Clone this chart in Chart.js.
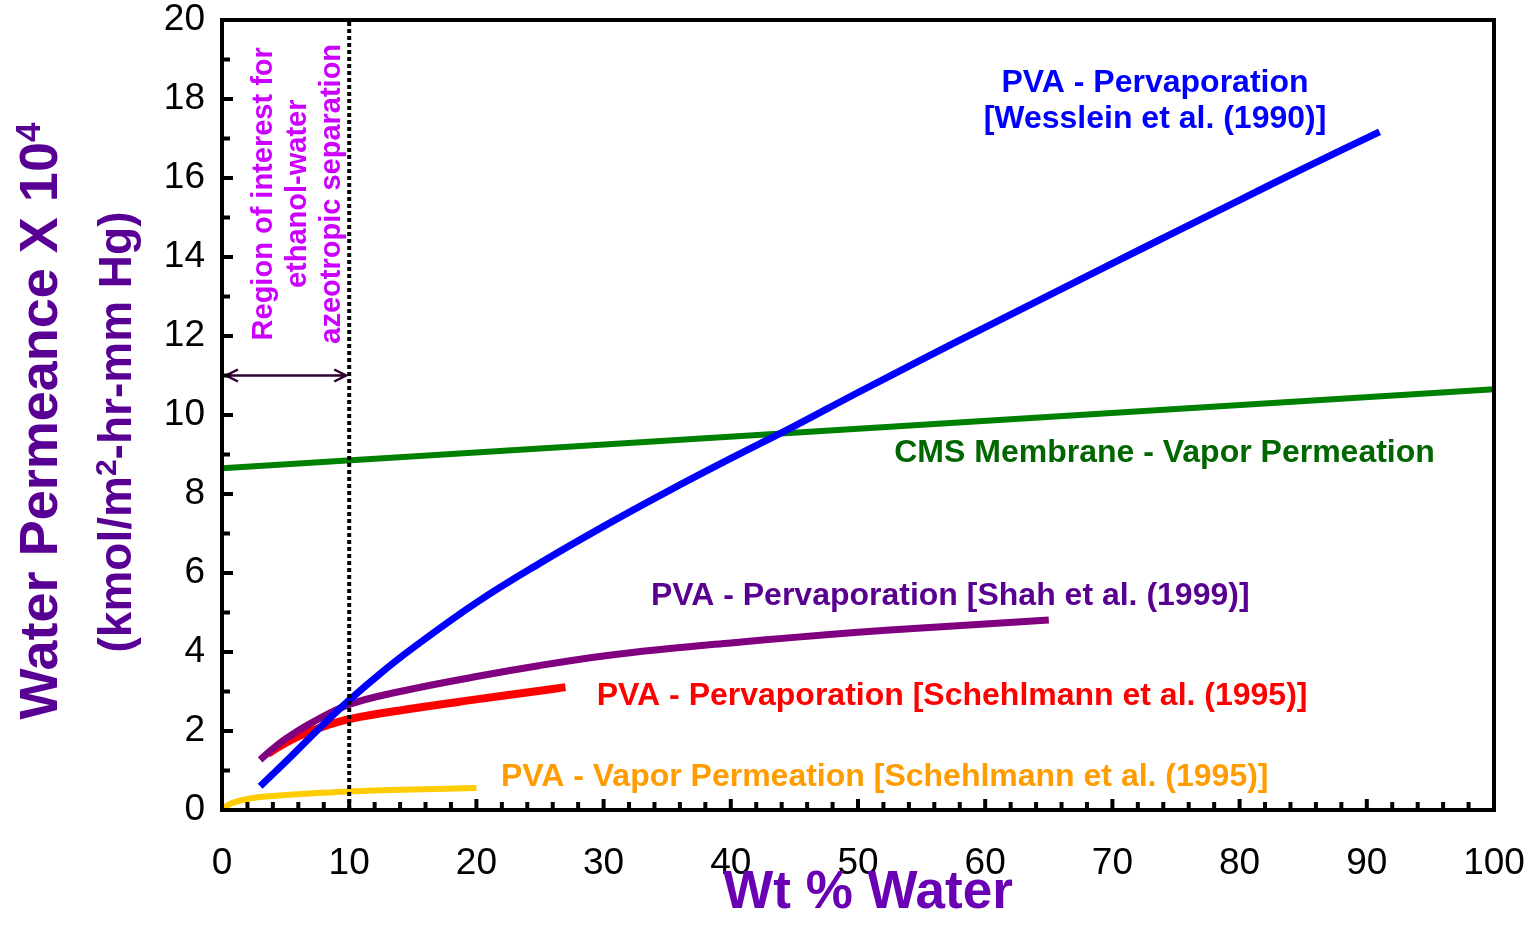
<!DOCTYPE html>
<html>
<head>
<meta charset="utf-8">
<script src="https://cdn.jsdelivr.net/npm/chart.js@4.4.0/dist/chart.umd.min.js"></script>
<style>
  html, body { margin: 0; padding: 0; background: #fff; }
</style>
</head>
<body>
<canvas id="chart" width="1537" height="938"></canvas>
<script>
const FONT = "'Liberation Sans', Arial, Helvetica, sans-serif";

// axis ranges + tick labels
const xTickLabels = [0, 10, 20, 30, 40, 50, 60, 70, 80, 90, 100];
const yTickLabels = [0, 2, 4, 6, 8, 10, 12, 14, 16, 18, 20];

// PVA - Pervaporation [Wesslein et al. (1990)]
const wessleinX = [3, 5, 7.5, 10, 12.5, 15, 20, 25, 30, 35, 40, 45, 50, 55, 60, 65, 70, 75, 80, 85, 91];
const wessleinY = [0.6, 1.22, 2.02, 2.78, 3.47, 4.1, 5.25, 6.25, 7.18, 8.06, 8.9, 9.72, 10.57, 11.4, 12.22, 13.03, 13.84, 14.64, 15.44, 16.24, 17.17];

// CMS Membrane - Vapor Permeation
const cmsX = [0, 100];
const cmsY = [8.65, 10.65];

// PVA - Pervaporation [Shah et al. (1999)]
const shahX = [3, 4, 5, 7, 10, 14, 20, 25, 30, 35, 40, 45, 50, 55, 60, 65];
const shahY = [1.27, 1.55, 1.8, 2.2, 2.67, 3.0, 3.38, 3.66, 3.9, 4.08, 4.23, 4.37, 4.5, 4.61, 4.71, 4.81];

// PVA - Pervaporation [Schehlmann et al. (1995)]
const schehlPervX = [3.6, 5, 7, 10, 15, 20, 25, 27];
const schehlPervY = [1.42, 1.7, 2.0, 2.3, 2.57, 2.8, 3.02, 3.11];

// PVA - Vapor Permeation [Schehlmann et al. (1995)]
const schehlVapX = [0, 0.5, 1, 2, 3, 5, 7.5, 10, 15, 20];
const schehlVapY = [0.02, 0.13, 0.2, 0.28, 0.33, 0.38, 0.43, 0.47, 0.52, 0.56];

// region of interest (wt % water) and arrow height
const regionEnd = 10;
const arrowLevel = 11;

function pts(xs, ys) {
  return xs.map((v, i) => ({ x: v, y: ys[i] }));
}

function series(xs, ys, color, width) {
  return {
    data: pts(xs, ys),
    borderColor: color,
    borderWidth: width,
    pointRadius: 0,
    fill: false,
    tension: 0.4,
    borderCapStyle: "butt",
    borderJoinStyle: "round"
  };
}

// curve labels, in data units (x = centre, y = baseline)
const curveLabels = [
  { text: "PVA - Pervaporation", x: 73.35, y: 18.18, color: "#0000ff" },
  { text: "[Wesslein et al. (1990)]", x: 73.35, y: 17.27, color: "#0000ff" },
  { text: "CMS Membrane - Vapor Permeation", x: 74.1, y: 8.8, color: "#006600" },
  { text: "PVA - Pervaporation [Shah et al. (1999)]", x: 57.25, y: 5.18, color: "#5a0091" },
  { text: "PVA - Pervaporation [Schehlmann et al. (1995)]", x: 57.4, y: 2.67, color: "#ff0000" },
  { text: "PVA - Vapor Permeation [Schehlmann et al. (1995)]", x: 52.1, y: 0.62, color: "#ff9c00" }
];

const regionText = ["Region of interest for", "ethanol-water", "azeotropic separation"];
const regionTextX = [3.93, 6.6, 9.28];
const regionTextY = 15.6;

function drawRich(ctx, parts, font, supFont, rise) {
  let total = 0;
  parts.forEach(p => {
    ctx.font = p.sup ? supFont : font;
    p.w = ctx.measureText(p.t).width;
    total += p.w;
  });
  let cx = -total / 2;
  parts.forEach(p => {
    ctx.font = p.sup ? supFont : font;
    ctx.fillText(p.t, cx, p.sup ? -rise : 0);
    cx += p.w;
  });
}

const decorPlugin = {
  id: "decor",
  afterDatasetsDraw(chart) {
    const { ctx, scales: { x, y } } = chart;
    ctx.save();
    // dotted boundary of the region of interest
    ctx.strokeStyle = "#000";
    ctx.lineWidth = 4;
    ctx.setLineDash([4, 3]);
    ctx.beginPath();
    ctx.moveTo(x.getPixelForValue(regionEnd), y.getPixelForValue(0));
    ctx.lineTo(x.getPixelForValue(regionEnd), y.getPixelForValue(20));
    ctx.stroke();
    ctx.setLineDash([]);

    // double arrow
    const ay = y.getPixelForValue(arrowLevel);
    const x0 = x.getPixelForValue(0) + 4;
    const x1 = x.getPixelForValue(regionEnd) - 3;
    ctx.strokeStyle = "#300030";
    ctx.lineWidth = 2.5;
    ctx.beginPath();
    ctx.moveTo(x0, ay);
    ctx.lineTo(x1, ay);
    ctx.moveTo(x0 + 12, ay - 6);
    ctx.lineTo(x0, ay);
    ctx.lineTo(x0 + 12, ay + 6);
    ctx.moveTo(x1 - 12, ay - 6);
    ctx.lineTo(x1, ay);
    ctx.lineTo(x1 - 12, ay + 6);
    ctx.stroke();

    // rotated region text
    ctx.fillStyle = "#cc00ff";
    ctx.font = "bold 29px " + FONT;
    ctx.textAlign = "center";
    ctx.textBaseline = "alphabetic";
    regionText.forEach((t, i) => {
      ctx.save();
      ctx.translate(x.getPixelForValue(regionTextX[i]), y.getPixelForValue(regionTextY));
      ctx.rotate(-Math.PI / 2);
      ctx.fillText(t, 0, 0);
      ctx.restore();
    });

    // curve labels
    ctx.font = "bold 32px " + FONT;
    curveLabels.forEach(l => {
      ctx.fillStyle = l.color;
      ctx.fillText(l.text, x.getPixelForValue(l.x), y.getPixelForValue(l.y));
    });
    ctx.restore();
  },
  afterDraw(chart) {
    const { ctx, chartArea: a, scales: { x, y } } = chart;
    ctx.save();
    ctx.strokeStyle = "#000";
    ctx.lineWidth = 4;
    // inward ticks
    ctx.beginPath();
    y.ticks.forEach(t => {
      const py = y.getPixelForValue(t.value);
      const len = t.value % 2 === 0 ? 11 : 8;
      ctx.moveTo(a.left, py);
      ctx.lineTo(a.left + len, py);
    });
    x.ticks.forEach(t => {
      const px = x.getPixelForValue(t.value);
      const len = t.value % 10 === 0 ? 11 : 8;
      ctx.moveTo(px, a.bottom);
      ctx.lineTo(px, a.bottom - len);
    });
    ctx.stroke();
    // frame
    ctx.lineJoin = "miter";
    ctx.strokeRect(a.left, a.top, a.right - a.left, a.bottom - a.top);

    // axis titles
    ctx.textAlign = "left";
    ctx.textBaseline = "alphabetic";
    const midY = (a.top + a.bottom) / 2;
    ctx.fillStyle = "#580094";
    ctx.save();
    ctx.translate(57, midY + 6);
    ctx.rotate(-Math.PI / 2);
    drawRich(ctx, [{ t: "Water Permeance X 10" }, { t: "4", sup: true }],
      "bold 54px " + FONT, "bold 35px " + FONT, 17);
    ctx.restore();
    ctx.save();
    ctx.translate(131, midY + 17);
    ctx.rotate(-Math.PI / 2);
    drawRich(ctx, [{ t: "(kmol/m" }, { t: "2", sup: true }, { t: "-hr-mm Hg)" }],
      "bold 46px " + FONT, "bold 30px " + FONT, 15);
    ctx.restore();

    ctx.fillStyle = "#6a00b4";
    ctx.textAlign = "center";
    ctx.font = "bold 53px " + FONT;
    ctx.fillText("Wt % Water", (a.left + a.right) / 2 + 10, 908);
    ctx.restore();
  }
};

function noPad(s) {
  s.paddingLeft = 0;
  s.paddingRight = 0;
  s.paddingTop = 0;
  s.paddingBottom = 0;
}

new Chart(document.getElementById("chart"), {
  type: "line",
  data: {
    datasets: [
      series(wessleinX, wessleinY, "#0000ff", 7),
      series(shahX, shahY, "#800080", 7),
      series(schehlPervX, schehlPervY, "#ff0000", 8),
      series(cmsX, cmsY, "#008000", 6),
      series(schehlVapX, schehlVapY, "#ffcc00", 6)
    ]
  },
  options: {
    responsive: false,
    animation: false,
    layout: { padding: { top: 20, right: 43, left: 0, bottom: 0 } },
    plugins: { legend: { display: false }, tooltip: { enabled: false } },
    scales: {
      x: {
        type: "linear",
        min: 0,
        max: 100,
        grid: { display: false, drawTicks: false },
        border: { display: false },
        ticks: {
          stepSize: 2,
          autoSkip: false,
          maxRotation: 0,
          padding: 35,
          color: "#000",
          font: { family: FONT, size: 37, lineHeight: 1 },
          callback: v => (xTickLabels.includes(v) ? String(v) : "")
        },
        afterFit: s => { s.height = 128; noPad(s); }
      },
      y: {
        type: "linear",
        min: 0,
        max: 20,
        grid: { display: false, drawTicks: false },
        border: { display: false },
        ticks: {
          stepSize: 1,
          autoSkip: false,
          padding: 17,
          color: "#000",
          font: { family: FONT, size: 37, lineHeight: 1 },
          callback: v => (yTickLabels.includes(v) ? String(v) : "")
        },
        afterFit: s => { s.width = 222; noPad(s); }
      }
    }
  },
  plugins: [decorPlugin]
});
</script>
</body>
</html>
